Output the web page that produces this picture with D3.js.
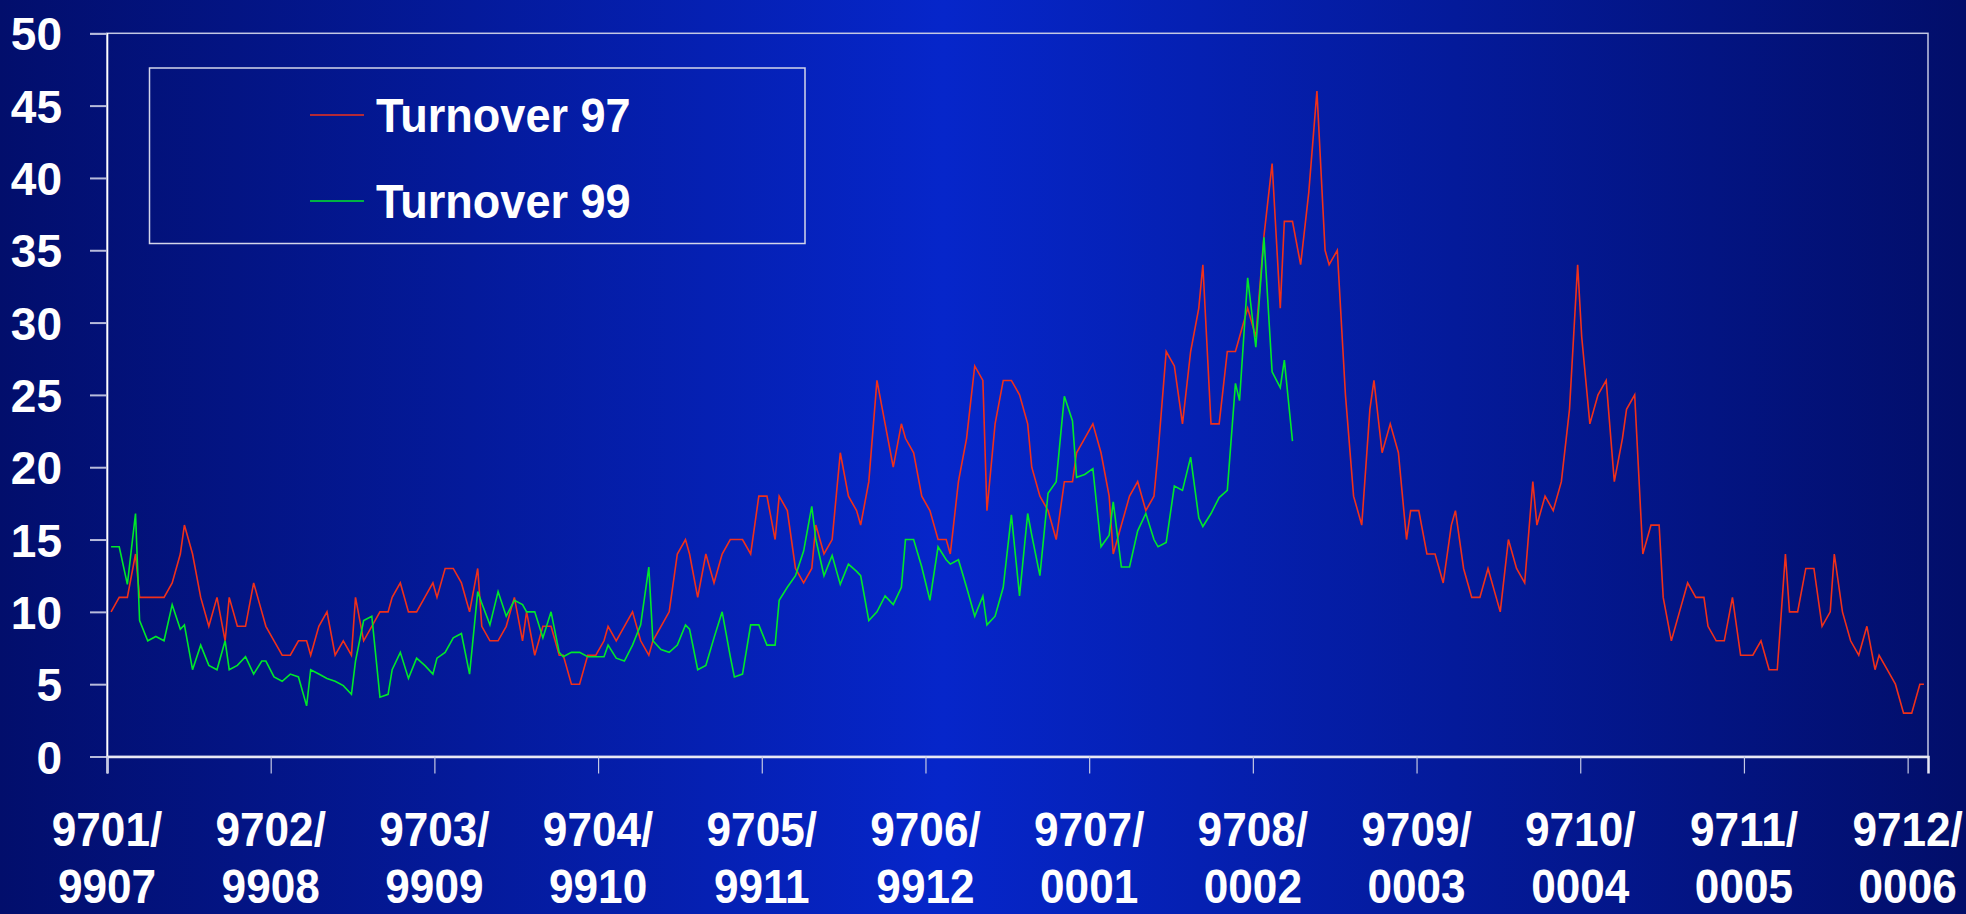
<!DOCTYPE html>
<html>
<head>
<meta charset="utf-8">
<script src="https://cdn.jsdelivr.net/npm/d3@7/dist/d3.min.js"></script>
<style>
    body { margin: 0; background: #020e6c; }
    svg { display: block; }
</style>
</head>
<body>
<svg id="canvas" width="1966" height="914"></svg>
<script>
// trading session index (half-day units, Saturdays count as half a session)
let session = [
    0,2,4,6,7, 9,11,13,15,17, 18,20,22,24,26, 28,29,31,33,35, 37,38,40,42,44,
    46,48,49,51,53, 55,57,59,60,62, 64,66,68,69,71, 73,75,77,79,80, 82,84,86,88,90,
    91,93,95,97,99, 101,102,104,106,108, 110,111,113,115,117, 119,121,122,124,126,
    128,130,132,133,135, 137,139,141,142,144, 146,148,150,152,153, 155,157,159,161,163,
    164,166,168,170,172, 173,175,177,179,181, 183,184,186,188,190, 192,194,195,197,199,
    201,203,205,206,208, 210,212,214,215,217, 219,221,223,225,226, 228,230,232,234,236,
    237,239,241,243,245, 246,248,250,252,254, 256,257,259,261,263, 265,267,268,270,272,
    274,276,277,279,281, 283,285,287,288,290,
    292,294,296,298,299, 301,303,305,307,309, 310,312,314,316,318, 319,321,323,325,327,
    329,330,332,334,336, 338,340,341,343,345, 347,349,350,352,354, 356,358,360,361,363,
    365,367,369,371,372, 374,376,378,380,381, 383,385,387,389,391, 392,394,396,398,400,
    402,403,405,407,409, 411,412,414,416,418, 420,422,423,425,427, 429,431,433,434,436,
    438,440,442,444,445
];

let turnover97 = [
    10,11,11,14,11, 11,11,11,12,14, 16,14,11,9,11, 8,11,9,9,12, 10,9,8,7,7,
    8,8,7,9,10, 7,8,7,11,8, 9,10,10,11,12, 10,10,11,12,11, 13,13,12,10,13,
    9,8,8,9,11, 8,10,7,9,9, 7,7,5,5,7, 7,8,9,8,9,
    10,8,7,8,9, 10,14,15,14,11, 14,12,14,15,15, 15,14,18,18,15,
    18,17,13,12,13, 16,14,15,21,18, 17,16,19,26,23, 20,23,22,21,18,
    17,15,15,14,19, 22,27,26,17,23, 26,26,25,23,20, 18,17,15,19,19,
    21,22,23,21,18, 14,16,18,19,17, 18,21,28,27,23, 28,31,34,23,23,
    28,28,29,31,29, 36,41,31,37,37,
    34,39,46,35,34, 35,25,18,16,24, 26,21,23,21,15, 17,17,14,14,12,
    16,17,13,11,11, 13,11,10,15,13, 12,19,16,18,17, 19,24,34,29,23,
    25,26,19,22,24, 25,14,16,16,11, 8,10,12,11,11, 9,8,8,11,7,
    7,7,8,6,6, 14,10,10,13,13, 9,10,14,10,8, 7,9,6,7,6,
    5,3,3,5,5
];

let turnover99 = [
    14.5,14.5,11.9,16.8,9.4, 8.0,8.3,8.0,10.5,8.8, 9.1,6.0,7.7,6.3,6.0, 8.0,6.0,6.3,6.9,5.7,
    6.6,6.6,5.5,5.2,5.7, 5.5,3.5,6.0,5.7,5.4, 5.2,4.9,4.3,6.6,9.4, 9.7,4.1,4.3,6.0,7.2,
    5.4,6.8,6.3,5.7,6.8, 7.2,8.2,8.5,5.7,11.4, 10.6,9.1,11.4,9.7,10.8, 10.5,10.0,10.0,8.2,10.0,
    7.2,6.9,7.2,7.2,6.9, 6.9,6.9,7.7,6.8,6.6, 7.7,9.1,13.1,8.0,7.4, 7.2,7.7,9.1,8.8,6.0,
    6.3,8.2,10.0,6.9,5.5, 5.7,9.1,9.1,7.7,7.7, 10.8,11.7,12.5,14.2,17.3, 15.0,12.5,13.9,11.9,13.3,
    12.8,12.5,9.4,10.0,11.1, 10.5,11.7,15.0,15.0,13.1, 10.8,14.5,13.6,13.3,13.6, 11.7,9.7,11.1,9.1,9.7,
    11.7,16.7,11.1,16.8,15.3, 12.5,18.2,19.0,24.9,23.2, 19.3,19.5,19.9,14.5,15.3, 17.6,13.1,13.1,15.6,16.8,
    15.0,14.5,14.8,18.7,18.4, 20.7,16.5,15.9,16.8,17.9, 18.4,25.8,24.6,33.1,28.3, 35.9,26.6,25.5,27.4,21.8
];

let seriesNames = ['Turnover 97', 'Turnover 99'];
let seriesColors = ['#f0301a', '#00e82a'];

let yTicks = [0, 5, 10, 15, 20, 25, 30, 35, 40, 45, 50];
let monthLabels97 = ['9701/', '9702/', '9703/', '9704/', '9705/', '9706/', '9707/', '9708/', '9709/', '9710/', '9711/', '9712/'];
let monthLabels99 = ['9907', '9908', '9909', '9910', '9911', '9912', '0001', '0002', '0003', '0004', '0005', '0006'];

let width = 1966;
let height = 914;
let plot = { left: 107, right: 1928, top: 33.3, bottom: 756.5 };
let fontFamily = "'Liberation Sans', Arial, sans-serif";

let canvas = d3.select('#canvas');

// background: dark navy at the sides, bright blue in the middle
let defs = canvas.append('defs');
let grad = defs.append('linearGradient')
    .attr('id', 'bg')
    .attr('x1', '0%').attr('x2', '100%')
    .attr('y1', '0%').attr('y2', '0%');
grad.append('stop').attr('offset', '0%').attr('stop-color', '#020e6c');
grad.append('stop').attr('offset', '48%').attr('stop-color', '#0626ca');
grad.append('stop').attr('offset', '100%').attr('stop-color', '#020e6a');

canvas.append('rect')
    .attr('width', width)
    .attr('height', height)
    .attr('fill', 'url(#bg)');

let xScale = d3.scaleLinear()
    .domain([-1, d3.max(session) + 1])
    .range([plot.left, plot.right]);

let yScale = d3.scaleLinear()
    .domain([0, 50])
    .range([plot.bottom, plot.top]);

// frame of the plot area
canvas.append('rect')
    .attr('x', plot.left)
    .attr('y', plot.top)
    .attr('width', plot.right - plot.left)
    .attr('height', plot.bottom - plot.top)
    .attr('fill', 'none')
    .attr('stroke', '#c4c8e4')
    .attr('stroke-width', 1.5);

// y axis
let yAxis = d3.axisLeft(yScale)
    .tickValues(yTicks)
    .tickSize(17)
    .tickPadding(28)
    .tickFormat(d3.format('d'));

let yAxisG = canvas.append('g')
    .attr('transform', 'translate(' + plot.left + ',0)')
    .call(yAxis);

yAxisG.select('.domain')
    .attr('stroke', '#ffffff')
    .attr('stroke-width', 1.6);
yAxisG.selectAll('.tick line')
    .attr('stroke', '#b8bcdc')
    .attr('stroke-width', 2);
yAxisG.selectAll('.tick text')
    .attr('fill', '#ffffff')
    .attr('font-family', fontFamily)
    .attr('font-weight', 'bold')
    .attr('font-size', 46)
    .attr('dy', '0.36em');

// x axis: evenly spaced month ticks
let monthTicks = d3.range(monthLabels97.length).map((i) => {
    return -1 + i * 442 / 11;
});

let xAxis = d3.axisBottom(xScale)
    .tickValues(monthTicks)
    .tickSize(17)
    .tickFormat('');

let xAxisG = canvas.append('g')
    .attr('transform', 'translate(0,' + plot.bottom + ')')
    .call(xAxis);

xAxisG.select('.domain')
    .attr('stroke', '#e8e8f4')
    .attr('stroke-width', 2.5);
xAxisG.selectAll('.tick line')
    .attr('stroke', '#c4c8e4')
    .attr('stroke-width', 1.2);

let labels = canvas.append('g')
    .attr('fill', '#ffffff')
    .attr('font-family', fontFamily)
    .attr('font-weight', 'bold')
    .attr('font-size', 48)
    .attr('text-anchor', 'middle');

monthTicks.forEach((t, i) => {
    labels.append('text')
        .attr('transform', 'translate(' + xScale(t) + ',846) scale(0.92,1)')
        .text(monthLabels97[i]);
    labels.append('text')
        .attr('transform', 'translate(' + xScale(t) + ',903) scale(0.92,1)')
        .text(monthLabels99[i]);
});

// series
let line = d3.line()
    .x((d) => xScale(d.s))
    .y((d) => yScale(d.v));

let series97 = turnover97.map((v, i) => ({ s: session[i], v: v }));
let series99 = turnover99.map((v, i) => ({ s: session[i], v: v }));

canvas.append('path')
    .datum(series97)
    .attr('d', line)
    .attr('fill', 'none')
    .attr('stroke', seriesColors[0])
    .attr('stroke-width', 1.6)
    .attr('stroke-linejoin', 'miter');

canvas.append('path')
    .datum(series99)
    .attr('d', line)
    .attr('fill', 'none')
    .attr('stroke', seriesColors[1])
    .attr('stroke-width', 1.6)
    .attr('stroke-linejoin', 'miter');

// legend
let legend = canvas.append('g');

legend.append('rect')
    .attr('x', 149.5)
    .attr('y', 68)
    .attr('width', 655.5)
    .attr('height', 175.5)
    .attr('fill', 'none')
    .attr('stroke', '#d4d6ea')
    .attr('stroke-width', 1.5);

seriesNames.forEach((name, i) => {
    let cy = 115 + i * 86;
    legend.append('line')
        .attr('x1', 310)
        .attr('x2', 364)
        .attr('y1', cy)
        .attr('y2', cy)
        .attr('stroke', seriesColors[i])
        .attr('stroke-width', 1.6);
    legend.append('text')
        .attr('transform', 'translate(376,' + (cy + 17) + ') scale(0.92,1)')
        .attr('fill', '#ffffff')
        .attr('font-family', fontFamily)
        .attr('font-weight', 'bold')
        .attr('font-size', 49)
        .text(name);
});
</script>
</body>
</html>
